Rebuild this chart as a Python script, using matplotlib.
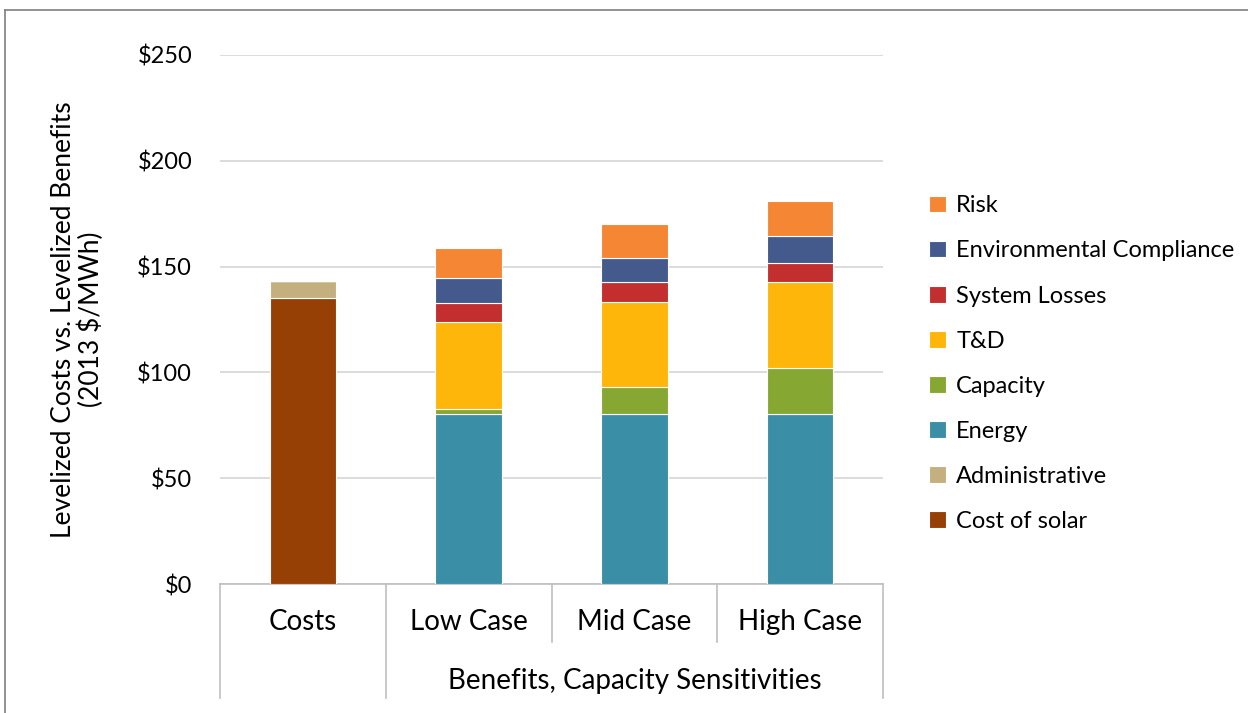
import matplotlib
matplotlib.use("Agg")
import matplotlib.pyplot as plt
from matplotlib.lines import Line2D
import numpy as np

plt.rcParams['font.family'] = ['Lato', 'DejaVu Sans']

categories = ['Costs', 'Low Case', 'Mid Case', 'High Case']
group_label = 'Benefits, Capacity Sensitivities'

# stacking order, bottom to top
series_names = ['Cost of solar', 'Administrative', 'Energy', 'Capacity',
                'T&D', 'System Losses', 'Environmental Compliance', 'Risk']
cost_of_solar = [135, 0, 0, 0]
administrative = [8, 0, 0, 0]
energy = [0, 80.5, 80.5, 80.5]
capacity = [0, 2, 12.5, 21.7]
t_and_d = [0, 41.2, 40.2, 40.4]
system_losses = [0, 8.9, 9.4, 9.1]
env_compliance = [0, 12.2, 11.5, 12.8]
risk = [0, 14, 16, 16.5]
series_values = [cost_of_solar, administrative, energy, capacity,
                 t_and_d, system_losses, env_compliance, risk]
colors = ['#974006', '#C4AF7E', '#3A8FA6', '#86A833',
          '#FFB60A', '#C32E2E', '#455A8C', '#F58634']

yticks = [0, 50, 100, 150, 200, 250]

fig = plt.figure(figsize=(12.48, 7.13), dpi=100)
ax = fig.add_axes([220/1248, 129/713, 663/1248, 529/713])

x = np.arange(len(categories))
bottom = np.zeros(len(categories))
handles = []
for name, vals, col in zip(series_names, series_values, colors):
    vals = np.array(vals, dtype=float)
    b = ax.bar(x, vals, width=0.4, bottom=bottom, color=col,
               edgecolor='white', linewidth=0.8, label=name, zorder=3)
    handles.append(b)
    bottom += vals

ax.set_xlim(-0.5, 3.5)
ax.set_ylim(0, 250)
ax.set_yticks(yticks)
ax.set_yticklabels(['${}'.format(v) for v in yticks], fontsize=17)
ax.grid(axis='y', color='#d9d9d9', linewidth=1.3, zorder=0)
ax.tick_params(axis='y', length=0, pad=20)
ax.tick_params(axis='x', length=0)
ax.set_xticks([])
for s in ['top', 'right', 'left']:
    ax.spines[s].set_visible(False)
ax.spines['bottom'].set_color('#bfbfbf')
ax.spines['bottom'].set_linewidth(1.2)

ax.set_ylabel('Levelized Costs vs. Levelized Benefits\n(2013 $/MWh)',
              fontsize=19, labelpad=24, linespacing=1.05)

# category labels and separators below the axis
tr = ax.get_xaxis_transform()
for xi, cat in zip(x, categories):
    ax.text(xi, -0.072, cat, transform=tr, ha='center', va='center', fontsize=20)
ax.text(2.0, -0.183, group_label, transform=tr, ha='center', va='center', fontsize=20)
for xs, y_end in [(-0.5, -0.216), (0.5, -0.216), (1.5, -0.11), (2.5, -0.11), (3.5, -0.216)]:
    ax.add_line(Line2D([xs, xs], [0, y_end], transform=tr, color='#bfbfbf',
                       linewidth=1.2, clip_on=False))

fig.legend(handles[::-1], series_names[::-1], loc='center left',
           bbox_to_anchor=(929/1248, 0.49), frameon=False, fontsize=17,
           borderaxespad=0, borderpad=0,
           handlelength=0.7, handleheight=0.7, handletextpad=0.45,
           labelspacing=1.02)

# outer frame
fig.add_artist(Line2D([5/1248, 5/1248], [0, 1 - 10/713], transform=fig.transFigure,
                      color='#7f7f7f', linewidth=1.2))
fig.add_artist(Line2D([5/1248, 1], [1 - 10/713, 1 - 10/713], transform=fig.transFigure,
                      color='#7f7f7f', linewidth=1.2))

fig.savefig('out.png', dpi=100)
